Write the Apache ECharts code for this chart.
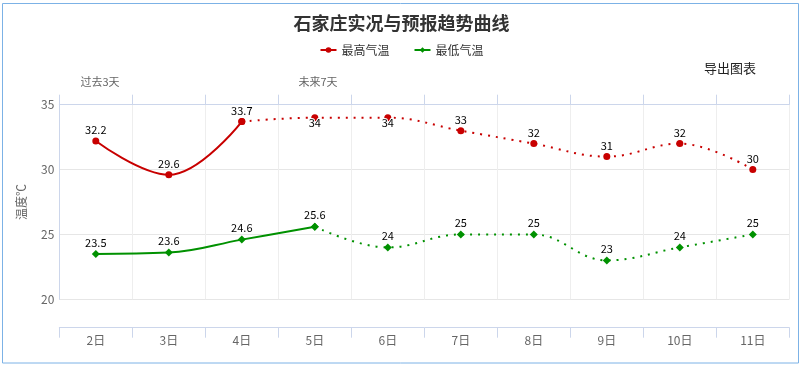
<!DOCTYPE html>
<html>
<head>
<meta charset="utf-8">
<script src="https://cdn.jsdelivr.net/npm/echarts@6/dist/echarts.min.js"></script>
<style>
html,body{margin:0;padding:0;background:#fff;}
#c{width:803px;height:367px;}
</style>
</head>
<body>
<div id="c"></div>
<script>
// ---- data ----
var categories = ['2日','3日','4日','5日','6日','7日','8日','9日','10日','11日'];
var maxTemp = [32.2, 29.6, 33.7, 34, 34, 33, 32, 31, 32, 30];
var minTemp = [23.5, 23.6, 24.6, 25.6, 24, 25, 25, 23, 24, 25];
var maxObservedLast = 2;   // index of last observed (solid) point, 最高气温
var minObservedLast = 3;   // index of last observed (solid) point, 最低气温
var yTicks = [20, 25, 30, 35];
var titleText = '石家庄实况与预报趋势曲线';
var seriesNames = ['最高气温', '最低气温'];

// ---- chart ----
var FONT = '"Microsoft YaHei","Noto Sans CJK SC",sans-serif';
var RED = '#c80000', GREEN = '#009100';
var yMin = yTicks[0], yMax = yTicks[yTicks.length - 1];

function labelCfg(v) {
  var base = {
    show: true, color: '#000', fontSize: 11, fontFamily: FONT,
    textBorderColor: '#fff', textBorderWidth: 2
  };
  // label would overflow the plot top -> put it inside (like the original)
  if (v > yMax - 1.1) { base.position = 'inside'; base.offset = [0, 5]; }
  else { base.position = 'top'; base.distance = 2; }
  return base;
}

function part(vals, from, to, withLabels, skipLabelIdx) {
  return vals.map(function (v, i) {
    if (i < from || i > to) return '-';
    var it = { value: v };
    if (withLabels && i !== skipLabelIdx) it.label = labelCfg(v);
    else it.label = { show: false };
    return it;
  });
}

function makeSeries(name, vals, lastObs, color, symbol, size) {
  var common = {
    name: name, type: 'line', smooth: 0.4, symbol: symbol, symbolSize: size,
    itemStyle: { color: color }, xAxisIndex: 0, yAxisIndex: 0,
    connectNulls: false, animation: false, z: 3
  };
  var solid = Object.assign({}, common, {
    data: part(vals, 0, lastObs, true, -1),
    lineStyle: { color: color, width: 2, type: 'solid' }
  });
  var dotted = Object.assign({}, common, {
    data: part(vals, lastObs, vals.length - 1, true, lastObs),
    lineStyle: { color: color, width: 2, type: [2, 6] }
  });
  return [solid, dotted];
}

var series = [].concat(
  makeSeries(seriesNames[0], maxTemp, maxObservedLast, RED, 'circle', 7),
  makeSeries(seriesNames[1], minTemp, minObservedLast, GREEN, 'diamond', 8)
);

var chart = echarts.init(document.getElementById('c'), null, { renderer: 'canvas' });
chart.setOption({
  backgroundColor: '#fff',
  animation: false,
  textStyle: { fontFamily: FONT },
  title: {
    text: titleText, left: 'center', top: 9,
    textStyle: { fontSize: 18, fontWeight: 'bold', color: '#333', fontFamily: FONT }
  },
  legend: {
    data: seriesNames, left: 'center', top: 41, itemWidth: 16, itemHeight: 7, itemGap: 24,
    padding: [3, 5],
    textStyle: { fontSize: 12, color: '#333', fontFamily: FONT }
  },
  grid: { left: 59.3, right: 13.7, top: 104.7, bottom: 67.7, containLabel: false },
  xAxis: [
    {
      type: 'category', data: categories, position: 'bottom', offset: 28.4,
      axisLine: { show: true, lineStyle: { color: '#ccd6eb', width: 1 } },
      axisTick: { show: true, length: 10, lineStyle: { color: '#ccd6eb' } },
      axisLabel: { color: '#666', fontSize: 12, margin: 7, fontFamily: FONT },
      splitLine: { show: false }
    },
    {
      type: 'category', data: categories, position: 'top',
      axisLine: { show: true, lineStyle: { color: '#ccd6eb', width: 1 } },
      axisTick: { show: true, length: 10, lineStyle: { color: '#ccd6eb' } },
      axisLabel: { show: false },
      splitLine: { show: true, lineStyle: { color: '#eeeeee', width: 1 } }
    }
  ],
  yAxis: {
    type: 'value', min: yMin, max: yMax, interval: yTicks[1] - yTicks[0],
    name: '温度℃', nameLocation: 'middle', nameGap: 32, nameRotate: 90,
    nameTextStyle: { color: '#666', fontSize: 12, fontFamily: FONT },
    axisLine: { show: true, lineStyle: { color: '#ccd6eb' } },
    axisTick: { show: false },
    axisLabel: { color: '#666', fontSize: 12, margin: 5, fontFamily: FONT },
    splitLine: { show: true, lineStyle: { color: '#e6e6e6', width: 1 } }
  },
  graphic: [
    { type: 'rect', silent: true, z: 100,
      shape: { x: 2.5, y: 3.5, width: 796, height: 359.5 },
      style: { fill: 'none', stroke: '#7cb2e6', lineWidth: 1 } },
    { type: 'text', x: 100, y: 82, z: 10,
      style: { text: '过去3天', fill: '#666', font: '11px ' + FONT, textAlign: 'center', textVerticalAlign: 'middle' } },
    { type: 'text', x: 318, y: 82, z: 10,
      style: { text: '未来7天', fill: '#666', font: '11px ' + FONT, textAlign: 'center', textVerticalAlign: 'middle' } },
    { type: 'text', x: 730, y: 68, z: 10,
      style: { text: '导出图表', fill: '#222', font: '13px ' + FONT, textAlign: 'center', textVerticalAlign: 'middle' } }
  ],
  series: series
});
</script>
</body>
</html>
